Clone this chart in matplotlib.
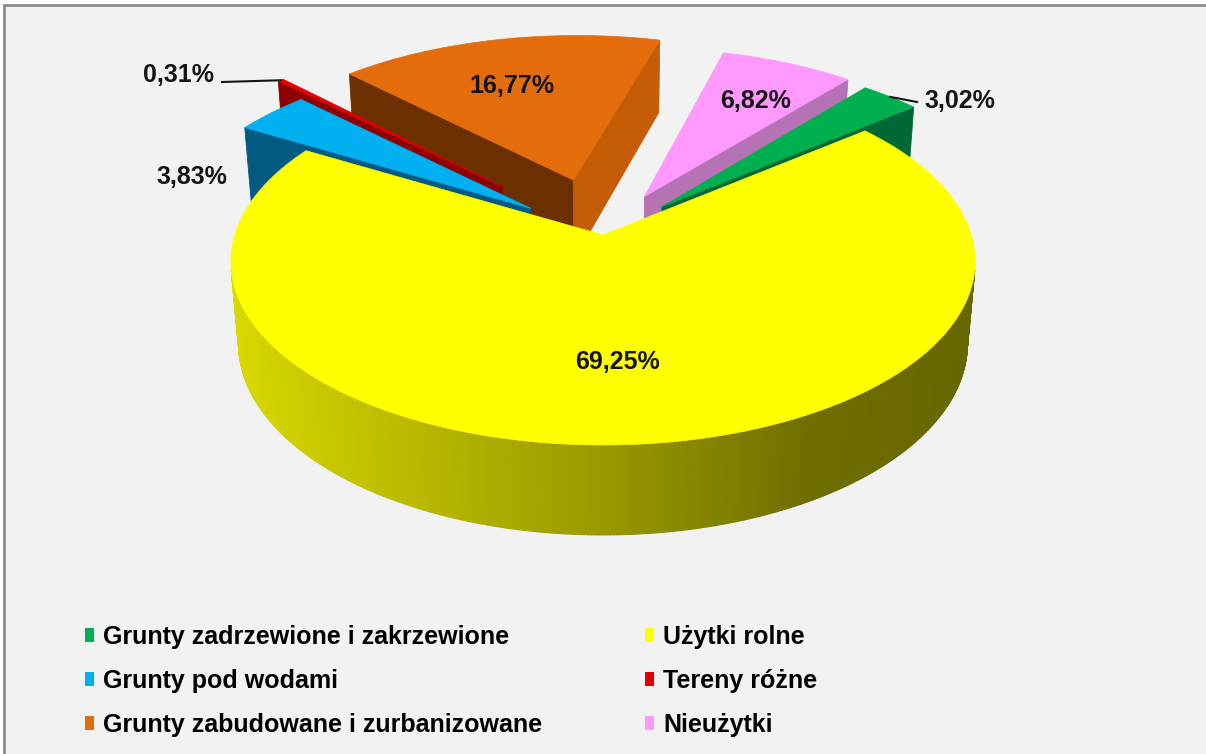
import numpy as np
import matplotlib
matplotlib.use("Agg")
import matplotlib.pyplot as plt
from matplotlib.patches import Polygon, Rectangle
from matplotlib.collections import PolyCollection
from matplotlib.font_manager import FontProperties

# ---------------- data ----------------
categories = ["Grunty zadrzewione i zakrzewione", "Użytki rolne", "Grunty pod wodami",
              "Tereny różne", "Grunty zabudowane i zurbanizowane", "Nieużytki"]
values = [3.02, 69.25, 3.83, 0.31, 16.77, 6.82]
value_labels = ["3,02%", "69,25%", "3,83%", "0,31%", "16,77%", "6,82%"]

# ---------------- style ----------------
top_colors = ["#00B050", "#FFFF00", "#00B0F0", "#E00000", "#E46C0A", "#FF99FF"]
start_face_colors = ["#00703A", "#A0A000", "#005A82", "#8E0000", "#6B2F00", "#B070B0"]
end_face_colors = ["#006834", "#707000", "#004F74", "#8E0000", "#C45C06", "#B572B5"]
explode = [0.23, 0.0, 0.25, 0.40, 0.33, 0.25]
start_angle = 40.0           # degrees, clockwise from the back of the pie
label_xy = [(960, 101), (618, 362), (192, 177), (178, 75), (512, 86), (756, 101)]
leader_end = [(917, 102), None, None, (222, 82), None, None]

# projection parameters (pixel space)
CX, CY = 603.0, 235.0
F = 2239.0
DIST = 6.08
ALPHA = np.arcsin(0.4884)
SA, CA = np.sin(ALPHA), np.cos(ALPHA)
H = 0.259
CAM = np.array([0.0, -DIST * CA, DIST * SA])


def proj(x, y, z):
    x = np.asarray(x, float); y = np.asarray(y, float); z = np.asarray(z, float)
    d = DIST + y * CA - z * SA
    X = F * x / d
    Y = F * (y * SA + z * CA) / d
    return CX + X, CY - Y


def depth(x, y, z):
    return DIST + y * CA - z * SA


fig = plt.figure(figsize=(12.06, 7.54), dpi=100)
fig.patch.set_facecolor("white")
ax = fig.add_axes([0, 0, 1, 1])
ax.set_xlim(0, 1206)
ax.set_ylim(754, 0)
ax.axis("off")

ax.add_patch(Rectangle((4, 5), 1220, 770, facecolor="#F2F2F2", edgecolor="#8C8C8C",
                       linewidth=2.0, zorder=0))

total = float(sum(values))
spans = []
acc = start_angle
for v in values:
    a1 = acc
    a2 = acc + 360.0 * v / total
    spans.append((a1, a2))
    acc = a2

yellow_shade_x = [-1.0, -0.5, 0.0, 0.5, 1.0]
yellow_shade_v = [0.86, 0.74, 0.60, 0.43, 0.40]

slices = []
for i, (a1, a2) in enumerate(spans):
    bis = np.radians((a1 + a2) / 2)
    ox, oy = explode[i] * np.sin(bis), explode[i] * np.cos(bis)
    key = depth(ox + 0.5 * np.sin(bis), oy + 0.5 * np.cos(bis), 0.0)
    slices.append((key, i, a1, a2, ox, oy))
slices.sort(key=lambda s: -s[0])

z = 10
for key, i, a1, a2, ox, oy in slices:
    n = max(int(abs(a2 - a1) * 2), 4)
    t = np.radians(np.linspace(a1, a2, n + 1))
    rx, ry = ox + np.sin(t), oy + np.cos(t)
    # radial faces
    for ang, col, sign in ((a1, start_face_colors[i], -1), (a2, end_face_colors[i], 1)):
        r = np.radians(ang)
        nrm = np.array([np.sin(r + sign * np.pi / 2), np.cos(r + sign * np.pi / 2), 0.0])
        P = np.array([ox + 0.5 * np.sin(r), oy + 0.5 * np.cos(r), -H / 2])
        if np.dot(nrm, CAM - P) > 0:
            xs = [ox, ox + np.sin(r), ox + np.sin(r), ox]
            ys = [oy, oy + np.cos(r), oy + np.cos(r), oy]
            zs = [0, 0, -H, -H]
            px, py = proj(xs, ys, zs)
            ax.add_patch(Polygon(np.column_stack([px, py]), closed=True, facecolor=col,
                                 edgecolor=col, linewidth=0.6, zorder=z))
    # outer curved side
    quads, cols = [], []
    for k in range(n):
        tm = 0.5 * (t[k] + t[k + 1])
        nrm = np.array([np.sin(tm), np.cos(tm), 0.0])
        P = np.array([ox + np.sin(tm), oy + np.cos(tm), -H / 2])
        if np.dot(nrm, CAM - P) <= 0:
            continue
        xs = [rx[k], rx[k + 1], rx[k + 1], rx[k]]
        ys = [ry[k], ry[k + 1], ry[k + 1], ry[k]]
        zs = [0, 0, -H, -H]
        px, py = proj(xs, ys, zs)
        quads.append(np.column_stack([px, py]))
        if i == 1:
            v = np.interp(np.sin(tm), yellow_shade_x, yellow_shade_v)
            cols.append((v, v, 0.0))
        else:
            cols.append(end_face_colors[i])
    if quads:
        ax.add_collection(PolyCollection(quads, facecolors=cols, edgecolors=cols,
                                         linewidths=0.8, zorder=z + 1))
    # top face
    px, py = proj(np.r_[ox, rx], np.r_[oy, ry], np.zeros(len(rx) + 1))
    ax.add_patch(Polygon(np.column_stack([px, py]), closed=True, facecolor=top_colors[i],
                         edgecolor=top_colors[i], linewidth=0.5, zorder=z + 2))
    z += 3

# labels
lab_font = FontProperties(family=["Liberation Sans", "DejaVu Sans"], weight="bold", size=18)
for i, txt in enumerate(value_labels):
    ax.text(label_xy[i][0], label_xy[i][1], txt, ha="center", va="center",
            fontproperties=lab_font, color="#151515", zorder=100)
    if leader_end[i] is not None:
        a1, a2 = spans[i]
        bis = np.radians((a1 + a2) / 2)
        r = 1.0 + explode[i]
        px, py = proj(r * np.sin(bis), r * np.cos(bis), 0.0)
        ax.plot([leader_end[i][0], px], [leader_end[i][1], py], color="#151515",
                linewidth=1.5, zorder=99)

# legend
order = [0, 2, 4, 1, 3, 5]
handles = [Rectangle((0, 0), 1, 1, facecolor=top_colors[k], edgecolor="none") for k in order]
labels = [categories[k] for k in order]
leg_font = FontProperties(family=["Liberation Sans", "DejaVu Sans"], weight="bold", size=18)
ax.legend(handles, labels, loc="upper left", bbox_to_anchor=(85, 625),
          bbox_transform=ax.transData, ncol=2, frameon=False, prop=leg_font,
          handlelength=0.36, handleheight=0.48, handletextpad=0.36,
          columnspacing=4.12, labelspacing=0.80, borderpad=0, borderaxespad=0)

fig.savefig("out.png", dpi=100, facecolor=fig.get_facecolor())
